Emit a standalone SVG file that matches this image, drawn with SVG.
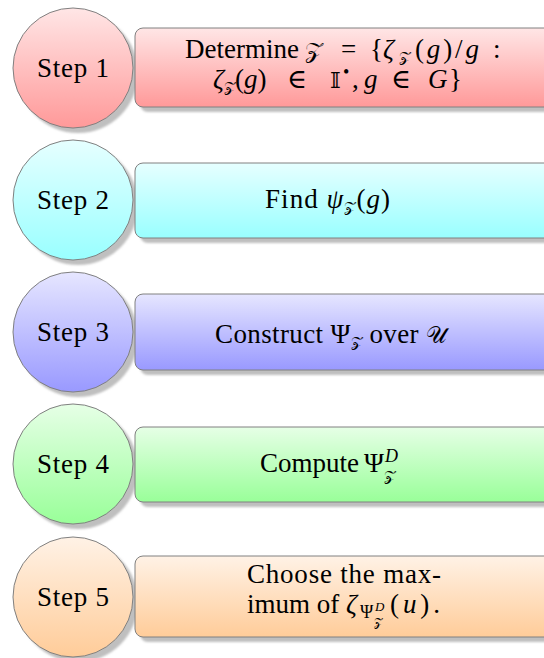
<svg xmlns="http://www.w3.org/2000/svg" width="544" height="658" viewBox="0 0 544 658">
<style>
.t{font-family:"Liberation Serif","DejaVu Serif",serif;font-size:27px;fill:#000}
.i{font-style:italic}
.m{font-family:"DejaVu Serif","DejaVu Sans","Liberation Serif",serif;font-style:normal;font-size:23px}
.sub{font-size:18px}
.msub{font-family:"DejaVu Serif","DejaVu Sans","Liberation Serif",serif;font-style:normal;font-size:15px}
.ss{font-size:13px}
.mss{font-family:"DejaVu Serif","DejaVu Sans","Liberation Serif",serif;font-style:normal;font-size:11px}
.sh{fill:#bfbfbf}
.node{stroke:#808080;stroke-width:1}
</style>
<defs>
<linearGradient id="gr" x1="0" y1="0" x2="0" y2="1"><stop offset="0" stop-color="#ffe6e6"/><stop offset="1" stop-color="#ff9999"/></linearGradient>
<linearGradient id="gc" x1="0" y1="0" x2="0" y2="1"><stop offset="0" stop-color="#e6ffff"/><stop offset="1" stop-color="#99ffff"/></linearGradient>
<linearGradient id="gb" x1="0" y1="0" x2="0" y2="1"><stop offset="0" stop-color="#e6e6ff"/><stop offset="1" stop-color="#9999ff"/></linearGradient>
<linearGradient id="gg" x1="0" y1="0" x2="0" y2="1"><stop offset="0" stop-color="#e6ffe6"/><stop offset="1" stop-color="#99ff99"/></linearGradient>
<linearGradient id="go" x1="0" y1="0" x2="0" y2="1"><stop offset="0" stop-color="#fff2e6"/><stop offset="1" stop-color="#ffcc99"/></linearGradient>
<filter id="blur" x="-10%" y="-10%" width="120%" height="120%"><feGaussianBlur stdDeviation="1"/></filter>
</defs>
<g id="connectors"></g>

<g id="step1">
<circle class="sh" cx="78" cy="73" r="60" filter="url(#blur)"/>
<circle class="node" cx="73" cy="68" r="60" fill="url(#gr)"/>
<text class="t" x="73" y="77" text-anchor="middle" textLength="72">Step 1</text>
</g>
<g id="box1">
<rect class="sh" x="140" y="33" width="420" height="79" rx="8" filter="url(#blur)"/>
<rect class="node" x="135" y="28" width="420" height="79" rx="8" fill="url(#gr)"/>
<text class="t" x="185" y="58">Determine</text>
<text class="t m" x="305" y="58">𝒵</text>
<text class="t" x="341" y="58">=</text>
<text class="t" x="370" y="58">{</text>
<text class="t i" x="383" y="58">ζ</text>
<text class="t msub" x="399" y="62">𝒵</text>
<text class="t" x="415" y="58" textLength="64">(<tspan class="i">g</tspan>)/<tspan class="i">g</tspan></text>
<text class="t" x="493" y="58">:</text>
<text class="t" x="213" y="88"><tspan class="i">ζ</tspan><tspan class="msub" dy="4">𝒵</tspan><tspan dy="-4">(</tspan><tspan class="i">g</tspan>)</text>
<text class="t" x="287" y="88">∈</text>
<text class="t m" x="330" y="88">𝕀</text>
<text class="t sub" x="343" y="78">•</text>
<text class="t" x="352" y="88">,</text>
<text class="t i" x="364" y="88">g</text>
<text class="t" x="391" y="88">∈</text>
<text class="t i" x="428" y="88">G</text>
<text class="t" x="449" y="88">}</text>
</g>

<g id="step2">
<circle class="sh" cx="78" cy="205" r="60" filter="url(#blur)"/>
<circle class="node" cx="73" cy="200" r="60" fill="url(#gc)"/>
<text class="t" x="73" y="209" text-anchor="middle" textLength="72">Step 2</text>
</g>
<g id="box2">
<rect class="sh" x="140" y="168" width="420" height="75" rx="8" filter="url(#blur)"/>
<rect class="node" x="135" y="163" width="420" height="75" rx="8" fill="url(#gc)"/>
<text class="t" x="265" y="208" textLength="125">Find <tspan class="i">ψ</tspan><tspan class="msub" dy="4">𝒵</tspan><tspan dy="-4">(</tspan><tspan class="i">g</tspan>)</text>
</g>

<g id="step3">
<circle class="sh" cx="78" cy="337" r="60" filter="url(#blur)"/>
<circle class="node" cx="73" cy="332" r="60" fill="url(#gb)"/>
<text class="t" x="73" y="341" text-anchor="middle" textLength="72">Step 3</text>
</g>
<g id="box3">
<rect class="sh" x="140" y="299" width="420" height="76" rx="8" filter="url(#blur)"/>
<rect class="node" x="135" y="294" width="420" height="76" rx="8" fill="url(#gb)"/>
<text class="t" x="215" y="343" textLength="232">Construct Ψ<tspan class="msub" dy="4">𝒵</tspan><tspan dy="-4"> over </tspan><tspan class="m">𝒰</tspan></text>
</g>

<g id="step4">
<circle class="sh" cx="78" cy="469" r="60" filter="url(#blur)"/>
<circle class="node" cx="73" cy="464" r="60" fill="url(#gg)"/>
<text class="t" x="73" y="473" text-anchor="middle" textLength="72">Step 4</text>
</g>
<g id="box4">
<rect class="sh" x="140" y="432" width="420" height="75" rx="8" filter="url(#blur)"/>
<rect class="node" x="135" y="427" width="420" height="75" rx="8" fill="url(#gg)"/>
<text class="t" x="260" y="472">Compute</text>
<text class="t" x="364" y="472">Ψ</text>
<text class="t i sub" x="385" y="462">D</text>
<text class="t msub" x="384" y="481">𝒵</text>
</g>

<g id="step5">
<circle class="sh" cx="78" cy="602" r="60" filter="url(#blur)"/>
<circle class="node" cx="73" cy="597" r="60" fill="url(#go)"/>
<text class="t" x="73" y="606" text-anchor="middle" textLength="72">Step 5</text>
</g>
<g id="box5">
<rect class="sh" x="140" y="561" width="420" height="81" rx="8" filter="url(#blur)"/>
<rect class="node" x="135" y="556" width="420" height="81" rx="8" fill="url(#go)"/>
<text class="t" x="247" y="583" textLength="194">Choose the max-</text>
<text class="t" x="247" y="613">imum of</text>
<text class="t i" x="346" y="613">ζ</text>
<text class="t sub" x="360" y="618">Ψ</text>
<text class="t i ss" x="375" y="611">D</text>
<text class="t mss" x="374" y="626">𝒵</text>
<text class="t" x="390" y="613" textLength="50">(<tspan class="i">u</tspan>).</text>
</g>
</svg>
